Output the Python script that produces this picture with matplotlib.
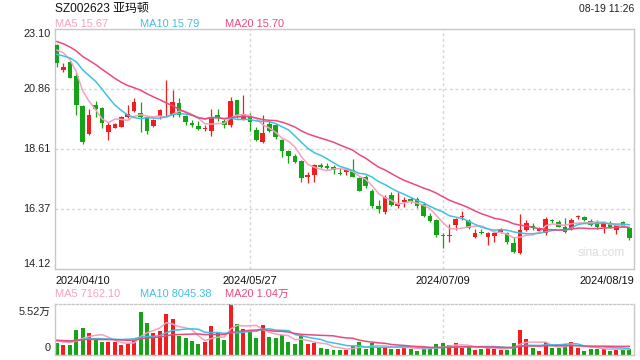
import matplotlib
matplotlib.use("Agg")
import matplotlib.pyplot as plt
import numpy as np
import pandas as pd

# ---- data (SZ002623, daily, 2024/04/10 - 2024/08/19) ----
# closes of the 19 sessions before the window (only used for the MA lines)
pre_close = [23.4, 23.6, 23.3, 23.0, 22.8, 23.2, 23.1, 22.9, 23.0, 22.8,
             22.3, 22.0, 21.7, 21.9, 22.07, 22.2, 22.5, 22.6, 22.43]
pre_volume = [15000, 18000, 14000, 17000, 16000, 19000, 15000, 14000, 17000, 16000,
              18000, 15000, 16000, 17000, 14000, 16000, 15000, 17000, 16000]

opens = [22.50, 21.58, 21.88, 21.35, 20.22, 19.16, 20.26, 20.16, 19.26, 19.41,
         19.45, 19.82, 20.03, 19.94, 19.80, 19.48, 19.85, 20.09, 19.88, 20.32,
         19.86, 19.59, 19.47, 19.36, 19.30, 19.88, 19.66, 19.49, 20.44, 19.73,
         19.82, 19.32, 18.86, 19.55, 19.51, 18.95, 18.55, 18.36, 18.16, 17.55,
         17.64, 18.01, 17.97, 17.95, 17.72, 17.74, 17.82, 17.54, 17.57, 17.03,
         16.48, 16.27, 16.89, 16.48, 16.62, 16.74, 16.73, 16.54, 16.12, 15.95,
         15.41, 15.37, 15.77, 16.06, 15.92, 15.33, 15.50, 15.33, 15.35, 15.52,
         15.45, 15.11, 14.73, 15.58, 15.73, 15.55, 15.45, 15.94, 15.86, 15.71,
         15.64, 16.06, 16.08, 15.93, 15.86, 15.71, 15.83, 15.58, 15.86, 15.64]
highs = [22.55, 21.83, 21.92, 21.45, 20.25, 20.10, 20.42, 20.20, 19.63, 19.58,
         19.85, 20.26, 20.51, 20.38, 19.82, 19.75, 20.10, 21.19, 20.82, 20.53,
         19.90, 19.70, 19.66, 19.50, 20.11, 20.11, 19.72, 20.54, 20.46, 20.63,
         19.95, 19.45, 19.88, 19.66, 19.55, 18.97, 18.58, 18.42, 18.20, 17.74,
         18.05, 18.10, 18.08, 18.02, 17.89, 17.90, 18.24, 17.56, 17.62, 17.10,
         16.70, 16.89, 17.01, 17.01, 16.80, 16.80, 16.80, 16.62, 16.20, 16.00,
         15.48, 15.79, 16.02, 16.29, 16.00, 15.63, 15.62, 15.50, 15.55, 15.65,
         15.50, 15.31, 16.18, 15.97, 15.85, 15.70, 16.05, 16.00, 15.95, 16.01,
         16.02, 16.15, 16.10, 16.00, 15.95, 15.90, 15.92, 15.82, 15.90, 15.68]
lows = [21.69, 21.50, 21.25, 19.88, 18.80, 19.12, 19.82, 19.38, 18.95, 19.38,
        19.43, 19.78, 20.00, 19.23, 19.16, 19.45, 19.75, 19.85, 19.82, 19.80,
        19.51, 19.45, 19.33, 19.29, 19.11, 19.66, 19.38, 19.45, 19.78, 19.70,
        19.28, 18.90, 18.84, 19.26, 18.98, 18.32, 18.08, 18.10, 17.39, 17.33,
        17.37, 17.90, 17.85, 17.68, 17.62, 17.62, 17.55, 17.02, 17.14, 16.42,
        16.23, 16.17, 16.48, 16.39, 16.43, 16.58, 16.40, 16.08, 15.87, 15.33,
        14.90, 15.14, 15.58, 15.95, 15.60, 15.28, 15.42, 15.01, 15.14, 15.45,
        15.04, 14.72, 14.68, 15.55, 15.58, 15.50, 15.40, 15.85, 15.68, 15.48,
        15.58, 16.00, 15.92, 15.72, 15.62, 15.45, 15.66, 15.43, 15.68, 15.22]
closes = [21.82, 21.68, 21.28, 20.25, 18.88, 19.88, 20.11, 19.59, 19.51, 19.56,
          19.82, 19.92, 20.36, 19.82, 19.28, 19.70, 20.07, 20.12, 20.38, 19.88,
          19.63, 19.51, 19.37, 19.39, 19.80, 19.76, 19.51, 20.41, 19.88, 19.91,
          19.61, 18.95, 19.22, 19.30, 19.07, 18.55, 18.36, 18.14, 17.51, 17.63,
          18.01, 17.95, 17.91, 17.82, 17.69, 17.84, 17.57, 17.05, 17.24, 16.49,
          16.35, 16.83, 16.52, 16.56, 16.70, 16.66, 16.49, 16.12, 15.93, 15.39,
          15.37, 15.40, 15.99, 16.09, 15.64, 15.48, 15.46, 15.45, 15.46, 15.61,
          15.14, 14.77, 15.58, 15.83, 15.64, 15.65, 15.98, 15.92, 15.71, 15.52,
          15.95, 16.09, 15.95, 15.77, 15.68, 15.86, 15.71, 15.77, 15.71, 15.27]
volumes = [12900, 10300, 10300, 26900, 29100, 23600, 16600, 13600, 13600, 13600,
           10300, 12500, 15800, 46700, 34600, 23600, 25800, 44500, 39000, 20200,
           18000, 15100, 11400, 13600, 31300, 24700, 15800, 55200, 33500, 27900,
           25800, 18000, 32400, 19100, 18000, 21300, 13600, 11400, 21300, 11400,
           12500, 7700, 7000, 5900, 5900, 5900, 9600, 13600, 7000, 12500,
           8100, 9200, 7000, 7000, 9200, 7000, 4800, 7000, 7000, 11400,
           12500, 10300, 12500, 8100, 9200, 5900, 7000, 8100, 7000, 5900,
           5900, 12500, 26900, 16900, 8100, 4800, 13600, 8100, 8100, 11400,
           13600, 8100, 4800, 7000, 7000, 7000, 4800, 5900, 5900, 7000]

date_labels = ["2024/04/10", "2024/05/27", "2024/07/09", "2024/08/19"]
date_pos = [0, 30, 60, 89]
price_ticks = [23.10, 20.86, 18.61, 16.37, 14.12]
vol_max = 55200

RED = "#f01e1e"
GREEN = "#17a317"
C_MA5 = "#f7a1bf"
C_MA10 = "#3ec2e2"
C_MA20 = "#ea4a7e"
GRID = "#d6d6d6"
EDGE = "#c8c8c8"
FONT = ["Liberation Sans", "Noto Sans CJK SC", "DejaVu Sans"]
plt.rcParams["font.family"] = FONT

n = len(closes)
x = np.arange(n)
o = np.array(opens); c = np.array(closes); h = np.array(highs); l = np.array(lows)
v = np.array(volumes)
up = c >= o
col = np.where(up, RED, GREEN)

all_close = pd.Series(pre_close + closes)
all_vol = pd.Series(pre_volume + volumes)
npre = len(pre_close)
ma = {k: all_close.rolling(k).mean().values[npre:] for k in (5, 10, 20)}
vma = {k: all_vol.rolling(k).mean().values[npre:] for k in (5, 10, 20)}

W, H = 640, 360
fig = plt.figure(figsize=(W / 100, H / 100), dpi=100)


def box(l_, t_, r_, b_):
    return [l_ / W, 1 - b_ / H, (r_ - l_) / W, (b_ - t_) / H]


xlim = (-0.31, 89.73)

# ---- price panel ----
ax = fig.add_axes(box(55, 29, 634, 269))
ax.set_xlim(*xlim)
ax.set_ylim(14.12, 23.10)
for yv in price_ticks[1:-1]:
    ax.axhline(yv, color=GRID, lw=1.0, ls=(0, (2, 2)), zorder=0)
for xp in date_pos[1:3]:
    ax.axvline(xp, color=GRID, lw=1.0, ls=(0, (2, 2)), zorder=0)

ax.vlines(x, l, h, colors=col, lw=0.9, zorder=2)
body = np.maximum(np.abs(c - o), 0.02)
ax.bar(x, body, bottom=np.minimum(o, c), width=0.72, color=col, lw=0, zorder=3)

ax.plot(x, ma[5], color=C_MA5, lw=1.1, zorder=4)
ax.plot(x, ma[10], color=C_MA10, lw=1.1, zorder=4)
ax.plot(x, ma[20], color=C_MA20, lw=1.1, zorder=4)

ax.set_xticks([]); ax.set_yticks([])
for s in ax.spines.values():
    s.set_color(EDGE); s.set_linewidth(1.0)

tr = ax.get_yaxis_transform()
for i, yv in enumerate(price_ticks):
    va = "top" if i == 0 else ("bottom" if i == len(price_ticks) - 1 else "center")
    ax.text(-0.008, yv, f"{yv:.2f}", transform=tr, ha="right", va=va,
            fontsize=7.8, color="#222222")

ax.text(0.985, 0.065, "sina.com", transform=ax.transAxes, ha="right", va="center",
        fontsize=8.5, color="#dcdcdc")

# dates
dtr = ax.get_xaxis_transform()
has = ["left", "center", "center", "right"]
xs = [xlim[0], date_pos[1], date_pos[2], xlim[1]]
for lab, xp, ha in zip(date_labels, xs, has):
    ax.text(xp, -0.03, lab, transform=dtr, ha=ha, va="top", fontsize=7.9, color="#111111")

# ---- volume panel ----
axv = fig.add_axes(box(55, 304, 634, 355))
axv.set_xlim(*xlim)
axv.set_ylim(0, vol_max)
for xp in date_pos[1:3]:
    axv.axvline(xp, color=GRID, lw=1.0, ls=(0, (2, 2)), zorder=0)
axv.bar(x, v, width=0.62, color=col, lw=0, zorder=2)
axv.plot(x, vma[5], color=C_MA5, lw=1.1, zorder=3)
axv.plot(x, vma[10], color=C_MA10, lw=1.1, zorder=3)
axv.plot(x, vma[20], color=C_MA20, lw=1.1, zorder=3)
axv.set_xticks([]); axv.set_yticks([])
for k, s in axv.spines.items():
    s.set_color(EDGE); s.set_linewidth(1.0)
axv.spines["top"].set_linestyle((0, (1.5, 1.5)))
axv.text(-0.008, 0.84, "5.52万", transform=axv.transAxes, ha="right", va="center",
         fontsize=7.8, color="#222222")
axv.text(-0.008, 0.13, "0", transform=axv.transAxes, ha="right", va="center",
         fontsize=7.8, color="#222222")

# ---- header texts ----
fig.text(55 / W, 1 - 9 / H, "SZ002623 亚玛顿", ha="left", va="center", fontsize=8.6, color="#111111")
fig.text(634 / W, 1 - 9 / H, "08-19 11:26", ha="right", va="center", fontsize=7.5, color="#222222")

legend_x = [55, 140, 225]
price_leg = ["MA5 15.67", "MA10 15.79", "MA20 15.70"]
vol_leg = ["MA5 7162.10", "MA10 8045.38", "MA20 1.04万"]
for xp, t, cc in zip(legend_x, price_leg, [C_MA5, C_MA10, C_MA20]):
    fig.text(xp / W, 1 - 24 / H, t, ha="left", va="center", fontsize=7.9, color=cc)
for xp, t, cc in zip(legend_x, vol_leg, [C_MA5, C_MA10, C_MA20]):
    fig.text(xp / W, 1 - 294 / H, t, ha="left", va="center", fontsize=7.9, color=cc)

fig.savefig("out.png", dpi=100)
